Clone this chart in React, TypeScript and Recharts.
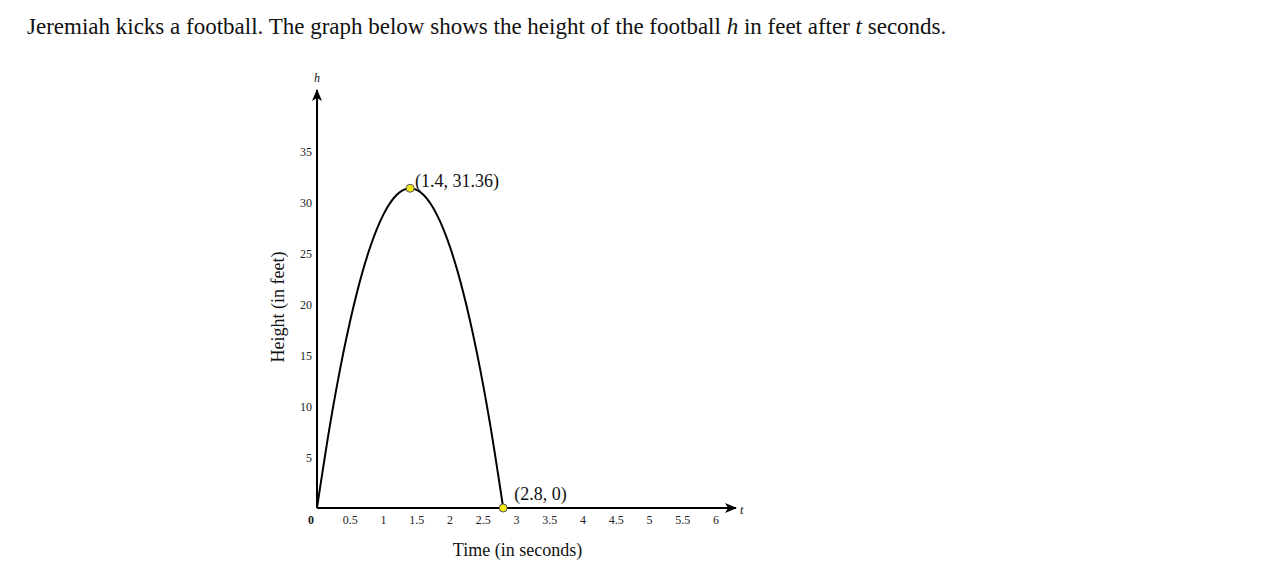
import { LineChart, Line, XAxis, YAxis, ReferenceDot } from 'recharts';

// values
const times = [0, 0.2, 0.4, 0.6, 0.8, 1.0, 1.2, 1.4, 1.6, 1.8, 2.0, 2.2, 2.4, 2.6, 2.8];
const heights = [0, 8.32, 15.36, 21.12, 25.6, 28.8, 30.72, 31.36, 30.72, 28.8, 25.6, 21.12, 15.36, 8.32, 0];
const xTicks = [0, 0.5, 1, 1.5, 2, 2.5, 3, 3.5, 4, 4.5, 5, 5.5, 6];
const yTicks = [5, 10, 15, 20, 25, 30, 35];
const keyPoints = [
  { t: 1.4, h: 31.36, label: '(1.4, 31.36)' },
  { t: 2.8, h: 0, label: '(2.8, 0)' },
];
const xMax = 6.3;
const yMax = 41;

const data = times.map((t, i) => ({ t, h: heights[i] }));

const serif = '"Liberation Serif", "DejaVu Serif", serif';

const XTick = (props: any) => {
  const { x, y, payload } = props;
  const isZero = payload.value === 0;
  return (
    <text x={isZero ? x - 6 : x} y={y - 1} dy="0.71em" textAnchor="middle" fontSize={12} fontFamily={serif} fill="#222" fontWeight={isZero ? 'bold' : 'normal'}>
      {payload.value}
    </text>
  );
};

const YTick = (props: any) => {
  const { x, y, payload } = props;
  return (
    <text x={x} y={y + 1} dy="0.35em" textAnchor="end" fontSize={12} fontFamily={serif} fill="#222">
      {payload.value}
    </text>
  );
};

const HeightLabel = (props: any) => {
  const { viewBox } = props;
  const cx = viewBox.x + 1;
  const cy = viewBox.y + viewBox.height / 2 + 8;
  return (
    <text x={cx} y={cy} transform={`rotate(-90, ${cx}, ${cy})`} textAnchor="middle" dominantBaseline="central" fontSize={18} fontFamily={serif} fill="#111">
      Height (in feet)
    </text>
  );
};

export default function App() {
  return (
    <div style={{ position: 'relative', width: 1257, height: 572 }}>
      <div style={{ position: 'absolute', left: 19, top: 6, fontFamily: serif, fontSize: 23, color: '#111', whiteSpace: 'nowrap' }}>
        Jeremiah kicks a football. The graph below shows the height of the football <i>h</i> in feet after <i>t</i> seconds.
      </div>
      <div style={{ position: 'absolute', left: 0, top: 0 }}>
        <LineChart width={800} height={570} data={data} margin={{ top: 82, right: 72, bottom: 20, left: 269 }}>
          <defs>
            <marker id="arrow" viewBox="0 0 12 10" refX="11" refY="5" markerWidth="12" markerHeight="10" markerUnits="userSpaceOnUse" orient="auto-start-reverse">
              <path d="M0,0 L12,5 L0,10 L3,5 Z" fill="#000" />
            </marker>
          </defs>
          <XAxis
            dataKey="t"
            type="number"
            domain={[0, xMax]}
            ticks={xTicks}
            allowDataOverflow
            height={50}
            tickLine={false}
            tick={<XTick />}
            axisLine={{ stroke: '#000', strokeWidth: 2, markerEnd: 'url(#arrow)' }}
            label={{ value: 'Time (in seconds)', position: 'insideBottom', offset: 2, dx: -9, fontSize: 18, fontFamily: serif, fill: '#111' }}
          />
          <YAxis
            type="number"
            domain={[0, yMax]}
            ticks={yTicks}
            allowDataOverflow
            width={40}
            tickSize={3}
            tickLine={false}
            tick={<YTick />}
            axisLine={{ stroke: '#000', strokeWidth: 2, markerStart: 'url(#arrow)' }}
            label={<HeightLabel />}
          />
          <Line type="monotone" dataKey="h" stroke="#000" strokeWidth={2} dot={false} isAnimationActive={false} />
          {keyPoints.map((p, i) => (
            <ReferenceDot
              key={p.label}
              x={p.t}
              y={p.h}
              r={4}
              fill="#f3ea12"
              stroke="#555"
              strokeWidth={1}
              ifOverflow="visible"
              label={{ value: p.label, position: 'right', offset: i === 0 ? 1 : 7, dy: i === 0 ? -8 : -14, fontSize: 18, fontFamily: serif, fill: '#111' }}
            />
          ))}
          <ReferenceDot x={0} y={yMax} r={0} ifOverflow="visible" label={{ value: 'h', position: 'top', offset: 8, fontSize: 12, fontStyle: 'italic', fontFamily: serif, fill: '#111' }} />
          <ReferenceDot x={xMax} y={0} r={0} ifOverflow="visible" label={{ value: 't', position: 'right', offset: 4, dy: 2, fontSize: 12, fontStyle: 'italic', fontFamily: serif, fill: '#111' }} />
        </LineChart>
      </div>
    </div>
  );
}
